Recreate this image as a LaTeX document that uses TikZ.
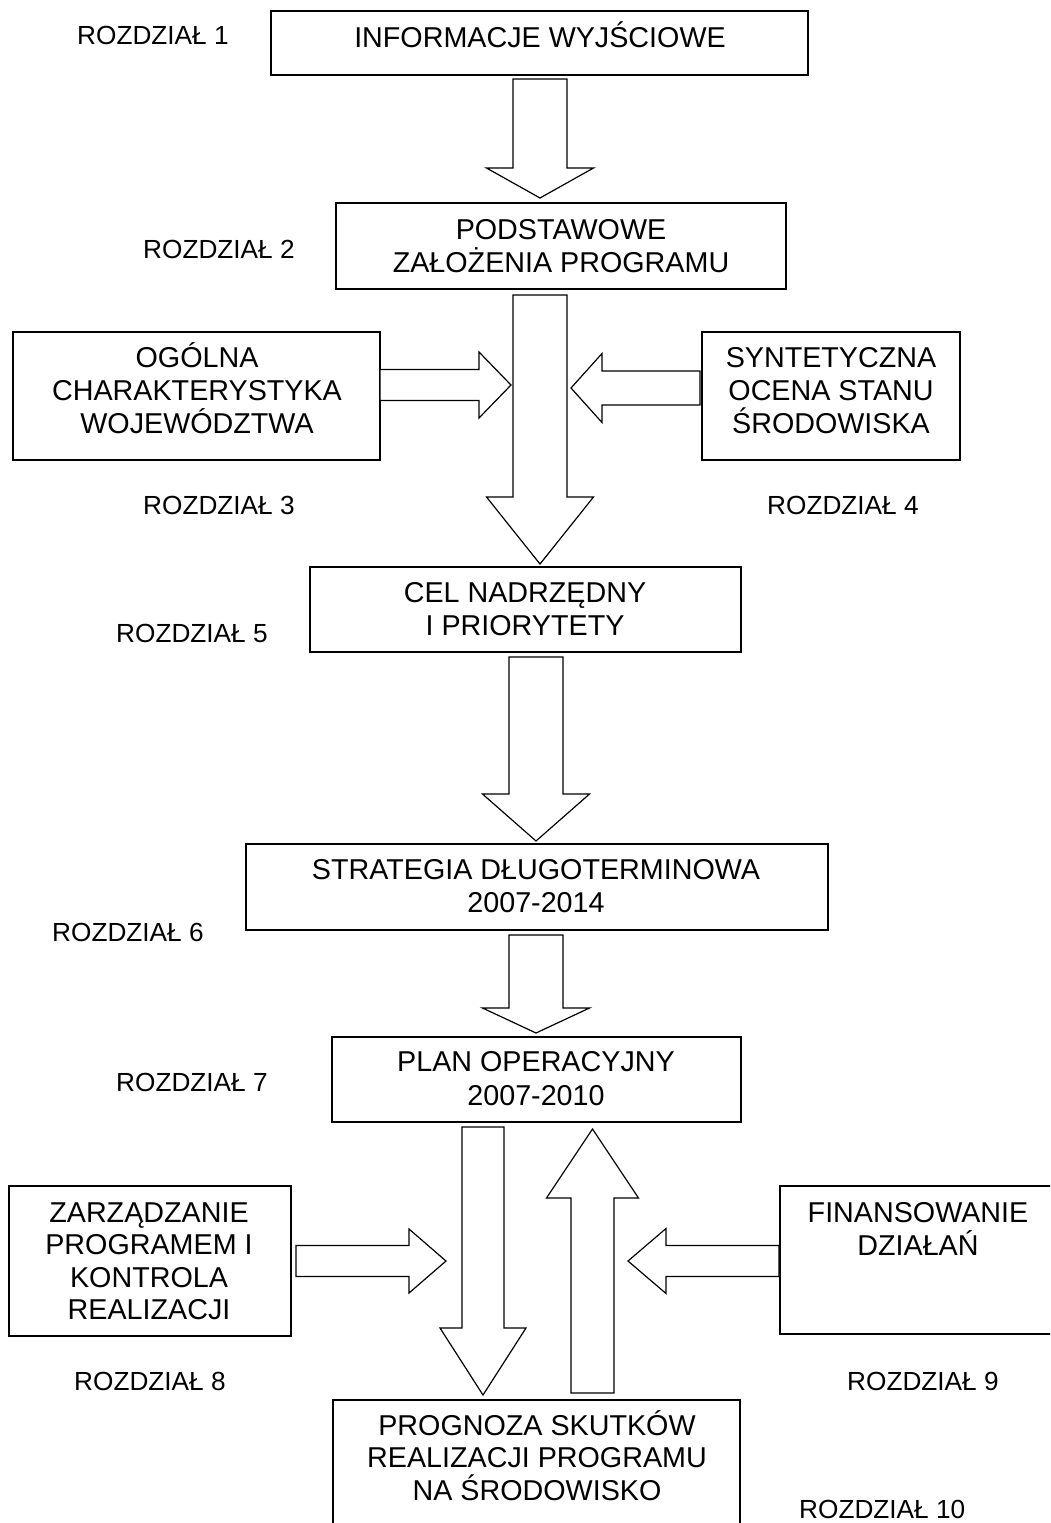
\documentclass[tikz,border=0pt]{standalone}
\usepackage{fontspec}
\setmainfont{Liberation Sans}
\usetikzlibrary{calc,fit}
\tikzset{
  box/.style={draw, line width=1.2pt, inner sep=0pt},
  txt/.style={font=\fontsize{28.7}{33}\selectfont, anchor=base, inner sep=0pt},
  lab/.style={font=\fontsize{26.2}{30}\selectfont, anchor=base west, inner sep=0pt},
  arrowshape/.style={draw, line width=1.2pt, fill=white, line join=miter}
}
% #1 tail, #2 tip, #3 shaft half width, #4 head half width, #5 head length
\newcommand{\blockarrow}[5]{%
  \coordinate (ba-h) at ($(#2)!#5!(#1)$);
  \draw[arrowshape] ($(#1)!#3!90:(#2)$) -- ($(ba-h)!#3!90:(#2)$) -- ($(ba-h)!#4!90:(#2)$)
    -- (#2) -- ($(ba-h)!#4!-90:(#2)$) -- ($(ba-h)!#3!-90:(#2)$) -- ($(#1)!#3!-90:(#2)$) -- cycle;
}
\begin{document}
\begin{tikzpicture}[x=1pt,y=-1pt]
\useasboundingbox (0,0) rectangle (1050,1523);
\clip (0,0) rectangle (1050,1523);
\fill[white] (0,0) rectangle (1050,1523);

% boxes
\node[box, fit={(271,11) (808,75)}] (b1) {};
\node[box, fit={(336,203) (786,289)}] (b2) {};
\node[box, fit={(13,332) (380,460)}] (b3) {};
\node[box, fit={(702,332) (960,460)}] (b4) {};
\node[box, fit={(310,567) (741,652)}] (b5) {};
\node[box, fit={(246,844) (828,930)}] (b6) {};
\node[box, fit={(332,1037) (741,1122)}] (b7) {};
\node[box, fit={(9,1186) (291,1336)}] (b8) {};
\node[box, fit={(780,1186) (1070,1334)}] (b9) {};
\node[box, fit={(333,1400) (740,1545)}] (b10) {};

% box texts
\node[txt] (t1) at (540,47) {INFORMACJE WYJŚCIOWE};
\node[txt] (t2a) at (561,239) {PODSTAWOWE};
\node[txt] (t2b) at (561,272) {ZAŁOŻENIA PROGRAMU};
\node[txt] (t3a) at (197,367) {OGÓLNA};
\node[txt] (t3b) at (197,400) {CHARAKTERYSTYKA};
\node[txt] (t3c) at (197,433) {WOJEWÓDZTWA};
\node[txt] (t4a) at (831,367) {SYNTETYCZNA};
\node[txt] (t4b) at (831,400) {OCENA STANU};
\node[txt] (t4c) at (831,433) {ŚRODOWISKA};
\node[txt] (t5a) at (525,602) {CEL NADRZĘDNY};
\node[txt] (t5b) at (525,635) {I PRIORYTETY};
\node[txt] (t6a) at (536,879) {STRATEGIA DŁUGOTERMINOWA};
\node[txt] (t6b) at (536,912) {2007-2014};
\node[txt] (t7a) at (536,1071) {PLAN OPERACYJNY};
\node[txt] (t7b) at (536,1105) {2007-2010};
\node[txt] (t8a) at (149,1222) {ZARZĄDZANIE};
\node[txt] (t8b) at (149,1254) {PROGRAMEM I};
\node[txt] (t8c) at (149,1287) {KONTROLA};
\node[txt] (t8d) at (149,1319) {REALIZACJI};
\node[txt] (t9a) at (918,1222.5) {FINANSOWANIE};
\node[txt] (t9b) at (918,1255) {DZIAŁAŃ};
\node[txt] (t10a) at (537,1435) {PROGNOZA SKUTKÓW};
\node[txt] (t10b) at (537,1467) {REALIZACJI PROGRAMU};
\node[txt] (t10c) at (537,1500) {NA ŚRODOWISKO};

% chapter labels
\node[lab] (r1) at (77,44) {ROZDZIAŁ 1};
\node[lab] (r2) at (143,258) {ROZDZIAŁ 2};
\node[lab] (r3) at (143,514) {ROZDZIAŁ 3};
\node[lab] (r4) at (767,514) {ROZDZIAŁ 4};
\node[lab] (r5) at (116,642) {ROZDZIAŁ 5};
\node[lab] (r6) at (52,941) {ROZDZIAŁ 6};
\node[lab] (r7) at (116,1091) {ROZDZIAŁ 7};
\node[lab] (r8) at (74,1390) {ROZDZIAŁ 8};
\node[lab] (r9) at (847,1390) {ROZDZIAŁ 9};
\node[lab] (r10) at (799,1518) {ROZDZIAŁ 10};

% arrow end points
\coordinate (a1s) at (540,79);     \coordinate (a1e) at (540,198);
\coordinate (a2s) at (540,295);    \coordinate (a2e) at (540,564);
\coordinate (a3s) at (380,385);    \coordinate (a3e) at (511,385);
\coordinate (a4s) at (700,388);    \coordinate (a4e) at (571,388);
\coordinate (a5s) at (536,657);    \coordinate (a5e) at (536,841);
\coordinate (a6s) at (536,935);    \coordinate (a6e) at (536,1033);
\coordinate (a7s) at (483,1127);   \coordinate (a7e) at (483,1395);
\coordinate (a8s) at (592.5,1393); \coordinate (a8e) at (592.5,1129);
\coordinate (a9s) at (296,1261);   \coordinate (a9e) at (446,1261);
\coordinate (a10s) at (779,1261);  \coordinate (a10e) at (628,1261);

\blockarrow{a1s}{a1e}{27pt}{53.5pt}{30pt}
\blockarrow{a2s}{a2e}{27pt}{53.5pt}{67pt}
\blockarrow{a3s}{a3e}{15.5pt}{33pt}{32pt}
\blockarrow{a4s}{a4e}{17pt}{34.5pt}{31pt}
\blockarrow{a5s}{a5e}{27pt}{53.5pt}{47pt}
\blockarrow{a6s}{a6e}{27pt}{53.5pt}{25pt}
\blockarrow{a7s}{a7e}{21pt}{43pt}{67pt}
\blockarrow{a8s}{a8e}{21.5pt}{46pt}{69pt}
\blockarrow{a9s}{a9e}{15.5pt}{32pt}{37pt}
\blockarrow{a10s}{a10e}{15.5pt}{32.5pt}{38pt}
\end{tikzpicture}
\end{document}
